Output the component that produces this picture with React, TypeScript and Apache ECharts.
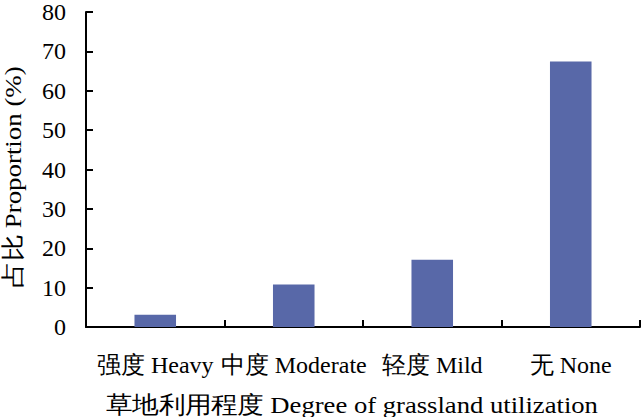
import React, { useEffect, useRef } from "react";
import * as echarts from "echarts";

const categories = ["强度 Heavy", "中度 Moderate", "轻度 Mild", "无 None"];
const values = [3.1, 10.8, 17.1, 67.4];
const yTicks = { min: 0, max: 80, interval: 10 };
const yTitle = "占比 Proportion (%)";
const xTitle = "草地利用程度 Degree of grassland utilization";

const FONT = "Liberation Serif";

export default function App() {
  const ref = useRef<HTMLDivElement>(null);
  useEffect(() => {
    if (!ref.current) return;
    const chart = echarts.init(ref.current, null, { renderer: "svg" });
    chart.setOption({
      animation: false,
      backgroundColor: "#ffffff",
      grid: { left: 86, right: 2, top: 7, bottom: 90, containLabel: false },
      xAxis: {
        type: "category",
        data: categories,
        boundaryGap: true,
        axisLine: { show: true, lineStyle: { color: "#000", width: 2 } },
        axisTick: { show: true, inside: true, length: 7, alignWithLabel: false, lineStyle: { color: "#000", width: 2 } },
        axisLabel: { color: "#000", fontSize: 24, fontFamily: FONT, margin: 26, interval: 0 },
        splitLine: { show: false },
      },
      yAxis: {
        type: "value",
        min: yTicks.min,
        max: yTicks.max,
        interval: yTicks.interval,
        axisLine: { show: true, lineStyle: { color: "#000", width: 2 } },
        axisTick: { show: true, inside: true, length: 7, lineStyle: { color: "#000", width: 2 } },
        axisLabel: { color: "#000", fontSize: 24, fontFamily: FONT, margin: 20 },
        splitLine: { show: false },
      },
      graphic: [
        {
          type: "text",
          x: 13,
          y: 177,
          rotation: Math.PI / 2,
          scaleX: 1.12,
          style: {
            text: yTitle,
            fill: "#000",
            fontSize: 24,
            fontFamily: FONT,
            align: "center",
            verticalAlign: "middle",
          },
        },
        {
          type: "text",
          x: 352,
          y: 404,
          scaleX: 1.11,
          style: {
            text: xTitle,
            fill: "#000",
            fontSize: 24,
            fontFamily: FONT,
            align: "center",
            verticalAlign: "middle",
          },
        },
      ],
      series: [
        {
          type: "bar",
          data: values,
          barWidth: "30%",
          itemStyle: { color: "#5868A8" },
        },
      ],
    });
    return () => chart.dispose();
  }, []);
  return <div ref={ref} style={{ width: 642, height: 417, position: "absolute", left: 0, top: 0 }} />;
}
